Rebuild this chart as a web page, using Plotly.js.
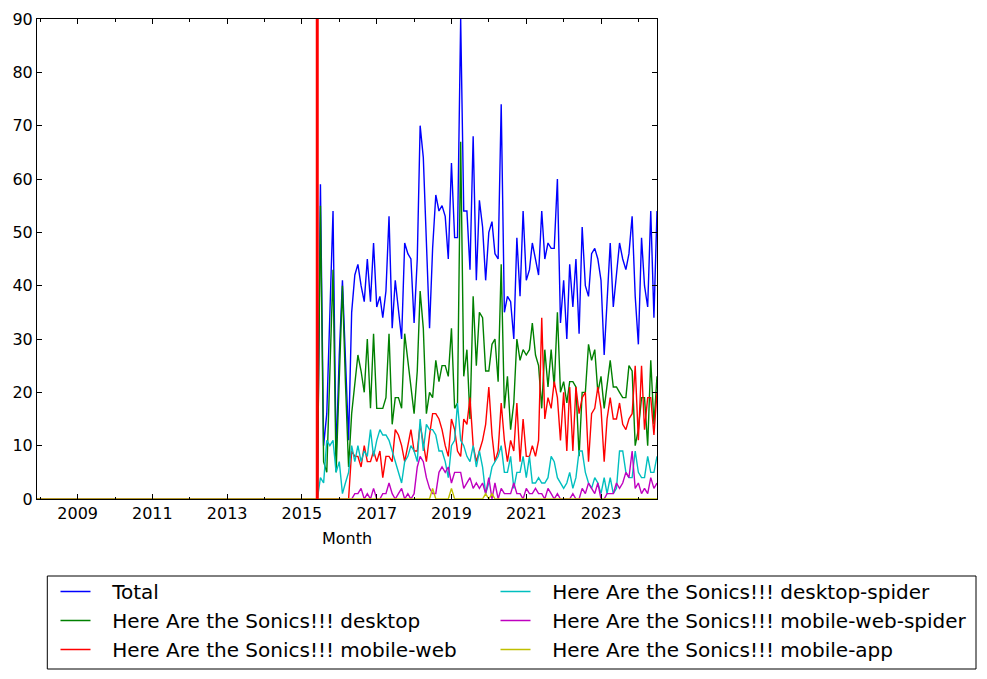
<!DOCTYPE html>
<html>
<head>
<meta charset="utf-8">
<script src="https://cdn.plot.ly/plotly-3.0.1.min.js"></script>
<style>
  html, body { margin: 0; padding: 0; background: #ffffff; }
  #chart { width: 987px; height: 679px; }
</style>
</head>
<body>
<div id="chart"></div>
<script>
// Monthly page views, 2015-07 .. 2024-07 (109 months)
const firstDataMonth = '2015-07';
const axisStartMonth = '2007-12';
const axisEndMonth = '2024-07';
const eventDate = '2015-05-31';

const seriesNames = [
  'Total',
  'Here Are the Sonics!!! desktop',
  'Here Are the Sonics!!! mobile-web',
  'Here Are the Sonics!!! desktop-spider',
  'Here Are the Sonics!!! mobile-web-spider',
  'Here Are the Sonics!!! mobile-app'
];

const totalViews = [59,10,16,36,54,8,27,41,26,11, 35,42,44,40,37,45,37,48,36,38,
  34,39,53,32,41,35,30,48,46,45, 33,45,70,64,47,32,47,57,54,55,
  53,45,63,49,49,90,54,54,43,68, 41,56,51,41,50,52,46,45,74,35,
  38,37,30,49,38,54,41,43,48,45, 42,54,45,48,47,47,60,33,41,30,
  44,36,45,31,51,40,38,46,47,45, 41,27,37,48,36,42,48,45,43,46,
  53,38,29,49,40,36,54,34,54];

const desktopViews = [55,7,5,24,43,5,22,40,22,6, 16,22,27,24,20,30,17,31,17,17,
  17,19,31,14,19,19,17,31,26,21, 16,24,39,32,16,20,19,26,22,25,
  25,23,32,17,18,67,23,28,15,38, 25,35,34,24,24,29,30,22,44,17,
  23,13,18,30,26,28,27,28,33,27, 25,17,28,21,28,21,35,20,22,18,
  22,22,21,8,20,20,29,26,28,20, 23,17,21,26,21,21,20,19,19,25,
  24,10,13,19,19,10,26,14,23];

const mobileWebViews = [0,0,0,0,0,0,0,0,0,0, 9,8,8,6,10,7,7,9,7,9,
  4,8,8,7,13,12,10,7,10,13, 9,9,14,10,7,12,16,16,15,13,
  10,8,15,13,9,8,15,14,19,10, 7,9,11,14,21,12,7,9,18,11,
  7,11,9,18,7,15,8,8,10,8, 11,34,15,19,17,22,19,11,20,9,
  21,9,21,16,19,20,7,16,17,21, 17,7,15,19,15,15,18,14,13,15,
  16,25,11,25,13,19,19,12,20];

const desktopSpiderViews = [4,3,11,10,11,5,7,1,3,5, 10,7,10,7,9,8,13,8,11,13,
  12,12,11,9,7,5,3,7,8,10, 9,7,15,9,14,13,13,12,9,9,
  7,4,10,11,18,11,10,8,7,10, 6,9,6,1,3,6,7,8,10,5,
  5,8,2,5,5,8,4,8,3,3, 4,3,3,4,8,7,4,3,2,3,
  5,2,4,9,9,5,3,2,4,3, 1,4,1,4,1,2,9,9,5,4,
  4,9,5,4,4,8,5,5,8];

const mobileWebSpiderViews = [0,0,0,0,0,0,0,0,0,0, 0,1,1,2,0,1,0,2,0,0,
  1,1,3,1,0,1,2,0,1,0, 1,6,8,7,4,2,1,1,5,6,
  5,6,3,5,5,5,2,3,4,2, 3,2,3,1,4,0,3,0,2,1,
  1,1,3,1,1,0,2,1,1,2, 1,1,0,2,1,0,1,0,0,0,
  0,1,0,0,2,1,3,2,1,3, 0,0,1,1,1,3,2,3,5,4,
  9,2,3,1,2,1,4,2,3];

const mobileAppViews = [0,0,0,0,0,0,0,0,0,0, 0,0,0,0,0,0,0,0,0,0,
  0,0,0,0,0,0,0,0,0,0, 0,0,0,0,0,0,2,0,0,0,
  0,0,2,0,0,0,0,0,0,0, 0,0,0,1,0,1,0,0,0,0,
  0,0,0,0,0,0,0,0,0,0, 0,0,0,0,0,0,0,0,0,0,
  0,0,0,0,0,0,0,0,0,0, 0,0,0,0,0,0,0,0,0,0,
  0,0,0,0,0,0,0,0,0];

// Months before the first data month are drawn flat at zero.
const zeroMonthsBefore = [0,0,0,0,0,0,0,0,0,0,0,0,0,0,0,0,0,0,0,0,0,0,0,0,0,0,0,0,0,0,
  0,0,0,0,0,0,0,0,0,0,0,0,0,0,0,0,0,0,0,0,0,0,0,0,0,0,0,0,0,0,
  0,0,0,0,0,0,0,0,0,0,0,0,0,0,0,0,0,0,0,0,0,0,0,0,0,0,0,0,0,0,0];

const xTickLabels = ['2009','2011','2013','2015','2017','2019','2021','2023'];
const yTickValues = [0,10,20,30,40,50,60,70,80,90];

// ---- build month list (categories) ----
function monthList(startYM, n) {
  let [y, m] = startYM.split('-').map(Number);
  const out = [];
  for (let i = 0; i < n; i++) {
    out.push(y + '-' + String(m).padStart(2, '0') + '-01');
    m++; if (m > 12) { m = 1; y++; }
  }
  return out;
}
const allMonths = monthList(axisStartMonth, zeroMonthsBefore.length + totalViews.length);

const seriesValues = [totalViews, desktopViews, mobileWebViews, desktopSpiderViews, mobileWebSpiderViews, mobileAppViews];
const colors = ['#0000ff', '#008000', '#ff0000', '#00bfbf', '#bf00bf', '#bfbf00'];
const legendOf = ['legend', 'legend', 'legend', 'legend2', 'legend2', 'legend2'];
// small gap between legend line sample and label text
const legendGap = '\u00A0\u00A0\u2009';

const traces = seriesValues.map((vals, i) => ({
  type: 'scatter',
  mode: 'lines',
  x: allMonths,
  y: zeroMonthsBefore.concat(vals),
  name: legendGap + seriesNames[i],
  line: { color: colors[i], width: 1.4 },
  legend: legendOf[i],
  hoverinfo: 'skip'
}));

const tickfont = { family: 'DejaVu Sans', size: 16, color: '#000' };
const legendFont = { family: 'DejaVu Sans', size: 20, color: '#000' };

const layout = {
  width: 987, height: 679,
  margin: { l: 37, r: 330, t: 19, b: 180, pad: 0, autoexpand: false },
  paper_bgcolor: '#ffffff',
  plot_bgcolor: '#ffffff',
  font: { family: 'DejaVu Sans', size: 16, color: '#000' },
  showlegend: true,
  xaxis: {
    type: 'date',
    range: [axisStartMonth + '-01', axisEndMonth + '-01'],
    tickmode: 'array',
    tickvals: xTickLabels.map(y => y + '-01-01'),
    ticktext: xTickLabels,
    ticks: 'inside', ticklen: 5, tickwidth: 1, tickcolor: '#000',
    minor: { ticks: 'inside', ticklen: 2.5, dtick: 'M12', tick0: '2008-01-01', tickcolor: '#000', tickwidth: 1, showgrid: false },
    showline: true, linecolor: '#000', linewidth: 1, mirror: 'ticks',
    showgrid: false, zeroline: false,
    tickfont: tickfont,
    automargin: false,
    title: { text: 'Month', font: { family: 'DejaVu Sans', size: 16, color: '#000' }, standoff: 10 }
  },
  yaxis: {
    range: [0, 90],
    tickmode: 'array',
    tickvals: yTickValues,
    ticktext: yTickValues.map(String),
    ticks: 'inside', ticklen: 5, tickwidth: 1, tickcolor: '#000',
    showline: true, linecolor: '#000', linewidth: 1, mirror: 'ticks',
    showgrid: false, zeroline: false,
    tickfont: tickfont,
    automargin: false
  },
  legend: {
    x: (55.5 - 37) / 620, xanchor: 'left',
    y: (499 - 572) / 480, yanchor: 'top',
    orientation: 'v',
    font: legendFont, itemwidth: 30,
    bgcolor: 'rgba(0,0,0,0)', borderwidth: 0, tracegroupgap: 0
  },
  legend2: {
    x: (495.5 - 37) / 620, xanchor: 'left',
    y: (499 - 572) / 480, yanchor: 'top',
    orientation: 'v',
    font: legendFont, itemwidth: 30,
    bgcolor: 'rgba(0,0,0,0)', borderwidth: 0, tracegroupgap: 0
  },
  shapes: [
    {
      type: 'line', xref: 'x', yref: 'paper',
      x0: eventDate, x1: eventDate, y0: 0, y1: 1,
      line: { color: '#ff0000', width: 3 }, layer: 'above'
    },
    {
      type: 'rect', xref: 'paper', yref: 'paper',
      x0: (47.3 - 37) / 620, x1: (976 - 37) / 620,
      y0: (499 - 576) / 480, y1: (499 - 669) / 480,
      line: { color: '#000', width: 1 }, fillcolor: 'rgba(0,0,0,0)'
    }
  ]
};

Plotly.newPlot('chart', traces, layout, { displayModeBar: false, staticPlot: true });
</script>
</body>
</html>
